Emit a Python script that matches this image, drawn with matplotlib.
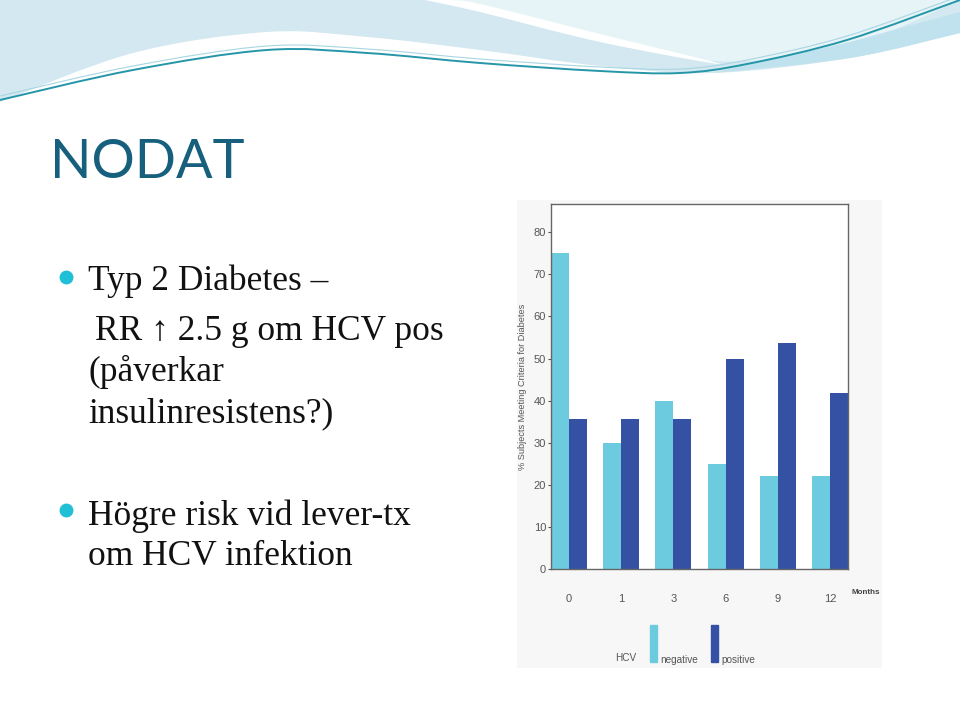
import matplotlib
matplotlib.use("Agg")
import matplotlib.pyplot as plt
import numpy as np
from matplotlib.path import Path
from matplotlib.patches import PathPatch, Rectangle

# data
months = ["0", "1", "3", "6", "9", "12"]
hcv_negative = [75, 30, 40, 25, 22, 22]
hcv_positive = [35.7, 35.7, 35.7, 50, 53.8, 41.7]

light = "#6ccbdf"
dark = "#3551a4"
teal = "#17607d"

W, H = 960, 720
fig = plt.figure(figsize=(9.6, 7.2), dpi=100)


def fx(x):
    return x / W


def fy(y):
    return 1 - y / H


def smooth(pts):
    # catmull-rom through the given points, as bezier segments
    pts = [np.array(p, float) for p in pts]
    verts = [pts[0]]
    codes = [Path.MOVETO]
    for i in range(len(pts) - 1):
        p0 = pts[i - 1] if i > 0 else pts[i]
        p1, p2 = pts[i], pts[i + 1]
        p3 = pts[i + 2] if i + 2 < len(pts) else p2
        verts += [p1 + (p2 - p0) / 6, p2 - (p3 - p1) / 6, p2]
        codes += [Path.CURVE4] * 3
    return verts, codes


def shape(pts, closing):
    v, c = smooth(pts)
    for p in closing:
        v.append(np.array(p, float))
        c.append(Path.LINETO)
    v.append(v[0])
    c.append(Path.CLOSEPOLY)
    return Path(v, c)


# background decoration (top wave)
bg = fig.add_axes([0, 0, 1, 1], zorder=-5)
bg.set_xlim(0, W)
bg.set_ylim(H, 0)
bg.axis("off")

lower = [(0, 102), (133, 53), (267, 32), (367, 37), (480, 50), (600, 66),
         (713, 73), (850, 58), (960, 33)]
bg.add_patch(PathPatch(shape(lower, [(960, 0), (0, 0)]),
                       facecolor="#d3e8f0", edgecolor="none"))

# lighter top-right region above the white streak
top_right = [(430, 0), (560, 30), (700, 60), (800, 55), (880, 35), (960, 0)]
bg.add_patch(PathPatch(shape(top_right, []), facecolor="#e6f4f8", edgecolor="none"))

streak = [(425, 0), (480, 12), (600, 42), (720, 64), (600, 34), (480, 4), (450, 0)]
bg.add_patch(PathPatch(shape(streak, []), facecolor="#ffffff", edgecolor="none"))

# blue band under the right part of the line
band = [(713, 73), (850, 58), (960, 33)]
bg.add_patch(PathPatch(shape(band, [(960, 12), (850, 42), (760, 62)]),
                       facecolor="#bfe2ee", edgecolor="none"))

line_pts = [(0, 100), (133, 70), (267, 50), (367, 53), (480, 63), (600, 71),
            (680, 73), (747, 64), (847, 40), (960, 0)]
v, c = smooth(line_pts)
bg.add_patch(PathPatch(Path(v, c), facecolor="none", edgecolor="#2596a8", lw=1.4))
v, c = smooth([(x, y - 4) for x, y in line_pts])
bg.add_patch(PathPatch(Path(v, c), facecolor="none", edgecolor="#a8d6e2", lw=0.8))

# faint panel behind the chart image
bg.add_patch(Rectangle((517, 200), 365, 468, facecolor="#f7f7f7", edgecolor="none"))

# title
fig.text(fx(50), fy(178), "NODAT", fontsize=39, color=teal,
         family=["Lato", "DejaVu Sans"], va="baseline", ha="left")

# bullets
serif = ["Liberation Serif", "DejaVu Serif"]
bullet_col = "#1fc0d6"
lines = [
    (88, 290, "Typ 2 Diabetes \u2013"),
    (95, 340, "RR \u2191 2.5 g om HCV pos"),
    (88, 381, "(påverkar"),
    (88, 422, "insulinresistens?)"),
    (88, 525, "Högre risk vid lever-tx"),
    (88, 565, "om HCV infektion"),
]
for x, y, s in lines:
    fig.text(fx(x), fy(y), s, fontsize=25.5, family=serif, color="#111111",
             va="baseline", ha="left")
for y in (277, 510):
    bg.plot(66, y, "o", ms=9, color=bullet_col)

# chart
ax = fig.add_axes([fx(551), fy(569), fx(848) - fx(551), fy(204) - fy(569)])
x = np.arange(len(months))
bw = 0.345
ax.bar(x - bw / 2, hcv_negative, width=bw, color=light)
ax.bar(x + bw / 2, hcv_positive, width=bw, color=dark)
ax.set_xlim(-bw, len(months) - 1 + bw)
ax.set_ylim(0, 86.7)
ax.set_yticks(range(0, 81, 10))
ax.set_xticks(x)
ax.set_xticklabels(months)
sans = ["Liberation Sans", "DejaVu Sans"]
for lab in ax.get_xticklabels() + ax.get_yticklabels():
    lab.set_family(sans)
ax.tick_params(axis="x", length=0, pad=18, labelsize=8, labelcolor="#555555")
ax.tick_params(axis="y", length=2, pad=1.5, labelsize=8, labelcolor="#555555",
               color="#555555")
for sp in ax.spines.values():
    sp.set_color("#666666")
    sp.set_linewidth(1)
ax.set_ylabel("% Subjects Meeting Criteria for Diabetes", fontsize=6.6,
              color="#555555", family=sans, labelpad=5)
fig.text(fx(852), fy(593), "Months", fontsize=5.8, color="#444444",
         family=sans, va="center", ha="left", weight="bold")

# legend drawn under the chart
fig.text(fx(615), fy(661), "HCV", fontsize=7.2, color="#555555", family=sans,
         va="baseline")
fig.patches.append(Rectangle((fx(650), fy(662)), fx(7), fy(625) - fy(662),
                             transform=fig.transFigure, color=light, figure=fig))
fig.text(fx(660), fy(663), "negative", fontsize=7.2, color="#555555", family=sans,
         va="baseline")
fig.patches.append(Rectangle((fx(711), fy(662)), fx(7), fy(625) - fy(662),
                             transform=fig.transFigure, color=dark, figure=fig))
fig.text(fx(721), fy(663), "positive", fontsize=7.2, color="#555555", family=sans,
         va="baseline")

fig.savefig("out.png", dpi=100)
